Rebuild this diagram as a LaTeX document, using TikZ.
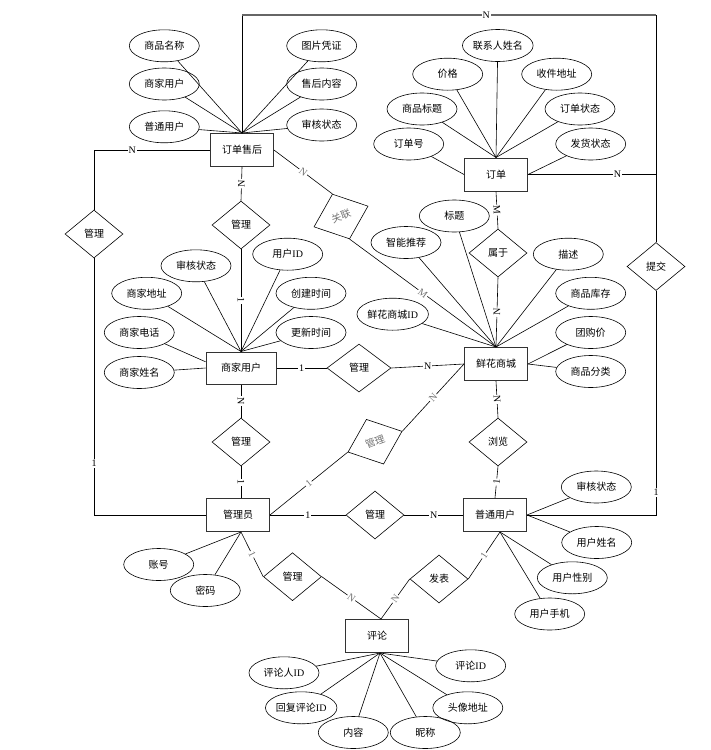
\documentclass[tikz,border=0pt]{standalone}
\usepackage{fontspec}
\setmainfont{Liberation Serif}
\newfontfamily\cjk{Noto Sans CJK SC}
\usetikzlibrary{shapes.geometric,calc}
\begin{document}
\begin{tikzpicture}[x=1pt,y=-1pt,
  txt/.style={font=\cjk\fontsize{10}{12}\selectfont},
  ent/.style={txt,draw=black!80,line width=1pt,minimum width=63pt,minimum height=33pt,inner sep=0pt},
  attr/.style={txt,draw,ellipse,line width=0.6pt,minimum width=70pt,minimum height=32pt,inner sep=0pt},
  rel/.style={txt,draw,diamond,line width=0.6pt,minimum width=58pt,minimum height=48pt,inner sep=0pt},
  grel/.style={rel,text=black!55},
  lab/.style={fill=white,inner sep=1pt,font=\rmfamily\fontsize{10}{12}\selectfont},
  glab/.style={lab,text=black!55},
  con/.style={line width=0.6pt}]
\useasboundingbox (0,0) rectangle (711,750);

% entities
\node[ent] (shouhou) at (242,150) {订单售后};
\node[ent] (dingdan) at (496,174.5) {订单};
\node[ent,minimum width=70pt,minimum height=32pt] (shangjia) at (241,368) {商家用户};
\node[ent] (shangcheng) at (496,364) {鲜花商城};
\node[ent] (guanliyuan) at (238,515) {管理员};
\node[ent] (putong) at (495,515) {普通用户};
\node[ent] (pinglun) at (377,636) {评论};

% relations
\node[rel] (gl1) at (94,234) {管理};
\node[rel] (gl2) at (241,225) {管理};
\node[grel,rotate=21] (guanlian) at (341,216.5) {关联};
\node[rel] (shuyu) at (498,253) {属于};
\node[rel] (tijiao) at (656,266.5) {提交};
\node[rel,minimum width=64pt] (gl3) at (359,368) {管理};
\node[rel] (gl4) at (241,442) {管理};
\node[rel] (liulan) at (498,442) {浏览};
\node[grel,rotate=21] (gl5) at (375,441.7) {管理};
\node[rel] (gl6) at (375,515) {管理};
\node[rel] (gl7) at (292.5,576.7) {管理};
\node[rel] (fabiao) at (439,579) {发表};

% attributes of 订单售后
\node[attr] (a1) at (164.3,45.8) {商品名称};
\node[attr] (a2) at (164.3,84) {商家用户};
\node[attr] (a3) at (164.3,126.8) {普通用户};
\node[attr] (a4) at (321.7,45.8) {图片凭证};
\node[attr] (a5) at (321.7,84) {售后内容};
\node[attr] (a6) at (321.7,125) {审核状态};
\foreach \n in {a1,a2,a3,a4,a5,a6} \draw[con] (\n) -- (shouhou.north);

% attributes of 订单
\node[attr] (b1) at (497.8,45.5) {联系人姓名};
\node[attr] (b2) at (447.7,74.2) {价格};
\node[attr] (b3) at (556.7,74.2) {收件地址};
\node[attr] (b4) at (422,109) {商品标题};
\node[attr] (b5) at (580,109) {订单状态};
\node[attr] (b6) at (408.7,144) {订单号};
\node[attr] (b7) at (590.7,144) {发货状态};
\foreach \n in {b1,b2,b3,b4,b5} \draw[con] (\n) -- (dingdan.north);
\draw[con] (b6) -- (dingdan.west);
\draw[con] (b7) -- (dingdan.east);

% attributes of 商家用户
\node[attr] (c1) at (196,265.8) {审核状态};
\node[attr] (c2) at (287.7,254.2) {用户{\rmfamily ID}};
\node[attr] (c3) at (146.7,293.3) {商家地址};
\node[attr] (c4) at (311,293.3) {创建时间};
\node[attr] (c5) at (139.3,332.5) {商家电话};
\node[attr] (c6) at (311,332.5) {更新时间};
\node[attr] (c7) at (139.3,372.5) {商家姓名};
\foreach \n in {c1,c2,c3,c4,c6} \draw[con] (\n) -- (shangjia.north);
\draw[con] (c5) -- (shangjia.170);
\draw[con] (c7) -- (shangjia.west);

% attributes of 鲜花商城
\node[attr] (d1) at (454.3,216) {标题};
\node[attr] (d2) at (406,242.5) {智能推荐};
\node[attr] (d3) at (568.3,254.2) {描述};
\node[attr] (d4) at (590.7,293.3) {商品库存};
\node[attr] (d5) at (392.7,314.2) {鲜花商城{\rmfamily ID}};
\node[attr] (d6) at (590.7,332.5) {团购价};
\node[attr] (d7) at (590.7,371.5) {商品分类};
\foreach \n in {d1,d2,d3,d4,d5} \draw[con] (\n) -- (shangcheng.north);
\draw[con] (d6) -- (shangcheng.east);
\draw[con] (d7) -- (shangcheng.east);

% attributes of 普通用户
\coordinate (pu) at ($(putong.south)+(5,0)$);
\node[attr] (e1) at (596.3,487) {审核状态};
\node[attr] (e2) at (596.7,542.5) {用户姓名};
\node[attr] (e3) at (572.3,577.8) {用户性别};
\node[attr] (e4) at (549.7,614) {用户手机};
\draw[con] (e1) -- (putong.east);
\draw[con] (e2) -- (putong.east);
\draw[con] (e3) -- (pu);
\draw[con] (e4) -- (pu);

% attributes of 管理员
\coordinate (gy) at ($(guanliyuan.south)+(3,0)$);
\node[attr] (f1) at (158.7,564.5) {账号};
\node[attr] (f2) at (205.3,590.5) {密码};
\draw[con] (f1) -- (gy);
\draw[con] (f2) -- (gy);

% attributes of 评论
\coordinate (pl) at ($(pinglun.south)+(3,0)$);
\coordinate (plt) at ($(pinglun.north)+(4,0)$);
\node[attr] (g1) at (284,672.8) {评论人{\rmfamily ID}};
\node[attr] (g2) at (470.7,665.8) {评论{\rmfamily ID}};
\node[attr] (g3) at (301.2,707.8) {回复评论{\rmfamily ID}};
\node[attr] (g4) at (467.8,707.8) {头像地址};
\node[attr] (g5) at (353.3,732.5) {内容};
\node[attr] (g6) at (425.3,732.5) {昵称};
\foreach \n in {g1,g2,g3,g4,g5,g6} \draw[con] (\n) -- (pl);

% relationship connectors
\coordinate (tr) at (656,15);
\coordinate (tl) at (shouhou.north |- tr);
\draw[con] (shouhou.north) -- (tl);
\draw[line width=1.2pt,black!60] (tl) -- node[lab,text=black,pos=0.59]{N} (tr);
\draw[con] (tr) -- (tijiao.north);
\draw[con] (dingdan.east) -- node[lab,pos=0.7]{N} (tijiao.north |- dingdan.east);
\draw[con] (tijiao.south) -- node[lab,pos=0.9]{1} (tijiao.south |- putong.east) -- (putong.east);

\draw[con] (shouhou.west) -- node[lab,pos=0.67]{N} (gl1.north |- shouhou.west) -- (gl1.north);
\draw[con] (gl1.south) -- node[lab,pos=0.8]{1} (gl1.south |- guanliyuan.west) -- (guanliyuan.west);

\draw[con] (shouhou.south) -- node[lab,sloped]{N} (gl2.north);
\draw[con] (gl2.south) -- node[lab,sloped]{1} (shangjia.north);

\draw[con] (shouhou.east) -- node[glab,sloped]{N} (guanlian.north);
\draw[con] (guanlian.south) -- node[glab,sloped]{M} (shangcheng.north);

\draw[con] (dingdan.south) -- node[lab,sloped]{M} (shuyu.north);
\draw[con] (shuyu.south) -- node[lab,sloped]{N} (shangcheng.north);

\draw[con] (shangjia.east) -- node[lab]{1} (gl3.west);
\draw[con] (gl3.east) -- node[lab]{N} (shangcheng.west);

\draw[con] (shangjia.south) -- node[lab,sloped]{N} (gl4.north);
\draw[con] (gl4.south) -- node[lab,sloped]{1} (gl4.south |- guanliyuan.north);

\draw[con] (shangcheng.south) -- node[lab,sloped]{N} (liulan.north);
\draw[con] (liulan.south) -- node[lab,sloped]{1} (putong.north);

\draw[con] (guanliyuan.east) -- node[glab,sloped]{1} (gl5.west);
\draw[con] (gl5.east) -- node[glab,sloped]{N} (shangcheng.west);

\draw[con] (guanliyuan.east) -- node[lab]{1} (gl6.west);
\draw[con] (gl6.east) -- node[lab]{N} (putong.west);

\draw[con] (gy) -- node[glab,sloped]{1} (gl7.west);
\draw[con] (gl7.east) -- node[glab,sloped]{N} (plt);

\draw[con] (pu) -- node[glab,sloped]{1} (fabiao.east);
\draw[con] (fabiao.west) -- node[glab,sloped]{N} (plt);
\end{tikzpicture}
\end{document}
